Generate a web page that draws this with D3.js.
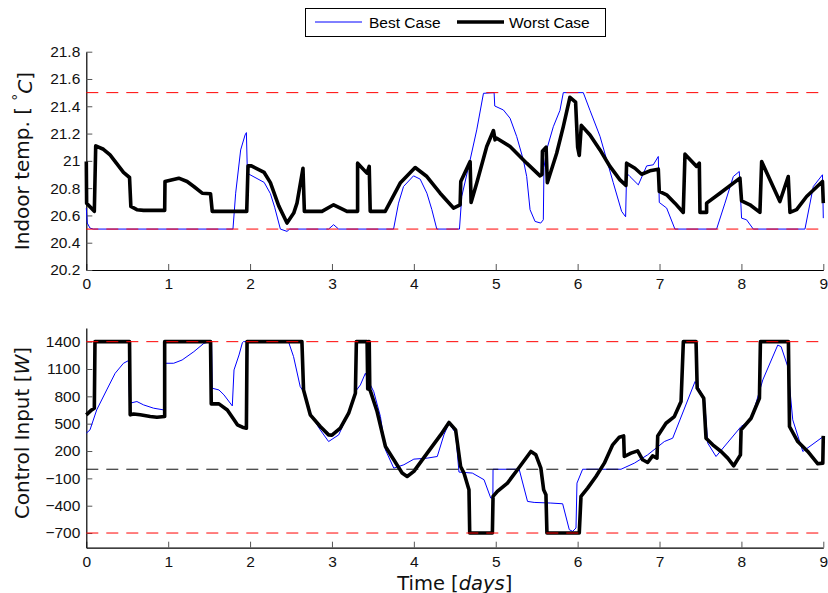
<!DOCTYPE html>
<html>
<head>
<meta charset="utf-8">
<script src="https://cdn.jsdelivr.net/npm/d3@7"></script>
<style>
  html, body { margin: 0; padding: 0; background: #fff; }
  svg { display: block; }
  .tick text { font-family: "Liberation Sans", Arial, sans-serif; font-size: 15.5px; fill: #111; }
</style>
</head>
<body>
<svg id="chart" width="828" height="593"></svg>
<script>
// ---------------- data ----------------
const dayTicks = [0, 1, 2, 3, 4, 5, 6, 7, 8, 9];
const tempTicks = [20.2, 20.4, 20.6, 20.8, 21, 21.2, 21.4, 21.6, 21.8];
const powerTicks = [-700, -400, -100, 200, 500, 800, 1100, 1400];
const tempLimits = [21.5, 20.5];
const powerLimits = [1400, -700];
const powerZero = [0];
const seriesNames = ["Best Case", "Worst Case"];

// Indoor temperature, best case [day, °C]
const tempBest = [
  [0,20.654],[0.012,20.544],[0.045,20.507],[0.086,20.5],[1.791,20.5],[1.824,20.763],[1.885,21.08],
  [1.939,21.19],[1.955,21.207],[1.967,20.91],[2.0,20.898],[2.172,20.842],[2.248,20.76],[2.30,20.66],
  [2.37,20.5],[2.451,20.483],[2.484,20.5],[2.959,20.5],[3.02,20.532],[3.081,20.5],[3.752,20.5],
  [3.813,20.69],[3.874,20.812],[3.996,20.89],[4.077,20.866],[4.159,20.763],[4.22,20.642],[4.28,20.5],
  [4.557,20.5],[4.585,20.739],[4.687,21.007],[4.768,21.227],[4.85,21.495],[4.98,21.5],[4.988,21.402],
  [5.093,21.373],[5.175,21.312],[5.256,21.178],[5.337,21.007],[5.378,20.885],[5.419,20.642],
  [5.48,20.556],[5.549,20.544],[5.581,20.568],[5.589,20.95],[5.621,21.08],[5.703,21.25],[5.784,21.37],
  [5.825,21.5],[6.069,21.5],[6.151,21.37],[6.273,21.18],[6.354,21.01],[6.435,20.84],[6.537,20.63],
  [6.586,20.59],[6.598,20.91],[6.639,20.885],[6.741,20.824],[6.843,20.963],[6.924,20.971],
  [6.985,21.032],[6.997,20.695],[7.087,20.654],[7.188,20.5],[7.697,20.5],[7.799,20.69],[7.901,20.885],
  [7.974,20.922],[8.002,20.58],[8.063,20.568],[8.145,20.5],[8.776,20.5],[8.878,20.812],[8.99,20.898],
  [9.0,20.58]
];

// Indoor temperature, worst case [day, °C]
const tempWorst = [
  [0,20.995],[0.004,20.69],[0.098,20.63],[0.115,21.11],[0.209,21.085],[0.29,21.044],[0.372,20.98],
  [0.454,20.915],[0.528,20.878],[0.544,20.666],[0.618,20.642],[0.70,20.637],[0.957,20.637],
  [0.961,20.849],[1.129,20.873],[1.231,20.849],[1.313,20.812],[1.415,20.763],[1.517,20.759],
  [1.538,20.63],[1.959,20.63],[1.975,20.963],[2.016,20.963],[2.172,20.915],[2.248,20.84],
  [2.35,20.67],[2.451,20.544],[2.533,20.617],[2.573,20.69],[2.646,20.946],[2.663,20.63],[2.878,20.63],
  [3.02,20.678],[3.102,20.654],[3.183,20.63],[3.313,20.63],[3.313,20.983],[3.427,20.91],[3.455,20.959],
  [3.467,20.63],[3.65,20.63],[3.833,20.837],[4.016,20.951],[4.159,20.885],[4.321,20.763],
  [4.484,20.654],[4.565,20.678],[4.573,20.849],[4.687,20.995],[4.699,20.695],[4.768,20.837],
  [4.89,21.105],[4.972,21.222],[4.992,21.154],[5.012,21.166],[5.175,21.105],[5.378,20.983],
  [5.541,20.89],[5.565,20.9],[5.57,21.07],[5.615,21.1],[5.63,20.84],[5.744,21.056],[5.825,21.251],
  [5.906,21.466],[5.975,21.43],[6.0,21.1],[6.02,21.04],[6.045,21.26],[6.151,21.19],[6.273,21.08],
  [6.395,20.959],[6.517,20.861],[6.59,20.82],[6.598,20.983],[6.70,20.946],[6.781,20.902],
  [6.883,20.927],[6.985,20.939],[6.997,20.776],[7.087,20.751],[7.188,20.69],[7.29,20.622],
  [7.311,21.049],[7.453,20.959],[7.486,20.983],[7.494,20.622],[7.575,20.622],[7.575,20.69],
  [7.738,20.763],[7.982,20.873],[8.002,20.707],[8.104,20.678],[8.226,20.622],[8.247,20.995],
  [8.47,20.702],[8.572,20.885],[8.593,20.622],[8.674,20.642],[8.796,20.739],[8.99,20.849],[9.0,20.69]
];

// Control input, best case [day, W]
const powerBest = [
  [0,396],[0.045,432],[0.127,651],[0.249,870],[0.352,1053],[0.454,1163],[0.515,1192],[0.528,724],
  [0.618,743],[0.70,706],[0.822,670],[0.945,651],[0.953,1163],[1.067,1163],[1.17,1199],[1.313,1290],
  [1.436,1382],[1.509,1400],[1.53,1400],[1.538,889],[1.62,870],[1.681,816],[1.783,695],[1.804,1090],
  [1.865,1254],[1.906,1389],[1.918,1400],[2.469,1400],[2.531,1236],[2.612,907],[2.653,852],
  [2.755,578],[2.857,432],[2.959,304],[3.082,377],[3.184,578],[3.286,852],[3.347,925],[3.408,1053],
  [3.449,962],[3.51,852],[3.592,578],[3.653,213],[3.755,12],[3.878,49],[4.0,111],[4.163,122],
  [4.286,140],[4.367,377],[4.429,505],[4.51,396],[4.551,-31],[4.714,-42],[4.857,-115],[4.939,-316],
  [4.965,-316],[4.967,0],[5.286,0],[5.388,-353],[5.469,-364],[5.673,-371],[5.817,-379],[5.898,-663],
  [5.939,-682],[5.98,-645],[5.992,-152],[6.061,0],[6.53,0],[6.693,67],[6.855,158],[7.059,304],
  [7.161,341],[7.434,962],[7.548,779],[7.589,286],[7.69,140],[7.996,469],[8.118,542],[8.261,980],
  [8.444,1363],[8.485,1345],[8.566,1126],[8.627,542],[8.75,195],[9.0,359]
];

// Control input, worst case [day, W]
const powerWorst = [
  [0,597],[0.065,651],[0.098,670],[0.106,1400],[0.528,1400],[0.536,597],[0.577,607],[0.658,597],
  [0.781,578],[0.863,571],[0.957,578],[0.957,1400],[1.517,1400],[1.526,717],[1.62,717],[1.722,651],
  [1.804,542],[1.845,487],[1.906,461],[1.955,450],[1.963,1400],[2.633,1400],[2.653,870],[2.735,597],
  [2.857,469],[2.959,377],[3.0,374],[3.102,450],[3.204,615],[3.286,834],[3.298,1400],[3.429,1400],
  [3.437,880],[3.447,1400],[3.455,1400],[3.462,870],[3.469,860],[3.551,633],[3.653,250],[3.755,104],
  [3.857,-42],[3.918,-79],[4.0,-24],
  [4.163,177],[4.327,377],[4.429,513],[4.51,432],[4.571,30],[4.612,-42],[4.673,-225],[4.682,-700],
  [4.959,-700],[4.967,-298],[5.02,-243],[5.143,-152],[5.265,-6],[5.429,195],[5.49,158],[5.551,12],
  [5.585,-225],[5.613,-280],[5.625,-700],[6.02,-700],[6.041,-298],[6.122,-207],[6.224,-79],
  [6.326,67],[6.428,268],[6.509,352],[6.562,366],[6.57,140],[6.652,177],[6.733,202],[6.794,104],
  [6.855,74],[6.916,147],[6.969,122],[6.978,366],[7.079,505],[7.181,578],[7.263,743],[7.291,1400],
  [7.446,1400],[7.46,890],[7.54,779],[7.568,341],[7.65,268],[7.752,195],[7.833,122],[7.906,38],
  [7.988,158],[7.996,432],[8.118,560],[8.22,779],[8.232,1400],[8.574,1400],[8.587,469],[8.688,304],
  [8.81,195],[8.933,60],[8.994,67],[9.0,366]
];

// ---------------- drawing ----------------
const svg = d3.select("#chart");
const X0 = 86.3, X1 = 823.3;
const x = d3.scaleLinear().domain([0, 9]).range([X0, X1]);
const yT = d3.scaleLinear().domain([20.2, 21.8]).range([270, 51.7]);
const yP = d3.scaleLinear().domain([-861, 1550]).range([547.7, 328]);

const blue = "#0000ff", black = "#000000", red = "#ff0000";

function panel(y, ticks, best, worst, limits, zero, yLabelParts, yLabelY) {
  const g = svg.append("g");
  const ax = g.append("g").attr("transform", `translate(0,${y.range()[0]})`)
    .call(d3.axisBottom(x).tickValues(dayTicks).tickFormat(d3.format("d"))
      .tickSizeInner(-6).tickSizeOuter(0).tickPadding(8));
  const ay = g.append("g").attr("transform", `translate(${X0},0)`)
    .call(d3.axisLeft(y).tickValues(ticks).tickFormat(d => (d < 0 ? "\u2212" + Math.abs(d) : String(d)))
      .tickSizeInner(-6).tickSizeOuter(0).tickPadding(6));
  [ax, ay].forEach(a => {
    a.select(".domain").attr("stroke", "#000").attr("stroke-width", 1.2);
    a.selectAll(".tick line").attr("stroke", "#555").attr("stroke-width", 1);
  });

  const line = d3.line().x(d => x(d[0])).y(d => y(d[1]));
  g.append("path").datum(best).attr("d", line)
    .attr("fill", "none").attr("stroke", blue).attr("stroke-width", 1)
    .attr("stroke-linejoin", "round");
  g.append("path").datum(worst).attr("d", line)
    .attr("fill", "none").attr("stroke", black).attr("stroke-width", 3.6)
    .attr("stroke-linejoin", "round").attr("stroke-linecap", "butt");

  limits.forEach(v => {
    g.append("line").attr("x1", x(0)).attr("x2", x(9)).attr("y1", y(v)).attr("y2", y(v))
      .attr("stroke", red).attr("stroke-width", 1).attr("stroke-dasharray", "12,8");
  });
  zero.forEach(v => {
    g.append("line").attr("x1", x(0)).attr("x2", x(9)).attr("y1", y(v)).attr("y2", y(v))
      .attr("stroke", "#111").attr("stroke-width", 1).attr("stroke-dasharray", "12,8");
  });

  const t = svg.append("text")
    .attr("transform", `translate(29,${yLabelY}) rotate(-90)`)
    .attr("text-anchor", "middle")
    .style("font-family", "'DejaVu Sans', sans-serif").style("font-size", "20px").attr("fill", "#111");
  yLabelParts.forEach(p => {
    const ts = t.append("tspan").text(p.t);
    if (p.i) ts.style("font-style", "italic");
    if (p.sup) ts.attr("dy", "-0.45em").style("font-size", "14px");
    if (p.down) ts.attr("dy", "0.45em");
  });
}

panel(yT, tempTicks, tempBest, tempWorst, tempLimits, [],
  [{t: "Indoor temp. [ "}, {t: "\u00B0", sup: true}, {t: "C", i: true, down: true}, {t: "]"}], 161);
panel(yP, powerTicks, powerBest, powerWorst, powerLimits, powerZero,
  [{t: "Control Input ["}, {t: "W", i: true}, {t: "]"}], 433);

const xl = svg.append("text").attr("x", (X0 + X1) / 2).attr("y", 589.5)
  .attr("text-anchor", "middle")
  .style("font-family", "'DejaVu Sans', sans-serif").style("font-size", "19.5px").attr("fill", "#111");
xl.append("tspan").text("Time [");
xl.append("tspan").text("days").style("font-style", "italic");
xl.append("tspan").text("]");

const lg = svg.append("g");
lg.append("rect").attr("x", 305.5).attr("y", 8.5).attr("width", 300).attr("height", 28)
  .attr("fill", "#fff").attr("stroke", "#000").attr("stroke-width", 1);
const legendItems = [
  {name: seriesNames[0], color: blue, w: 1, x1: 315, x2: 362, tx: 369},
  {name: seriesNames[1], color: black, w: 3.6, x1: 457, x2: 504, tx: 509}
];
legendItems.forEach(it => {
  lg.append("line").attr("x1", it.x1).attr("x2", it.x2).attr("y1", 22).attr("y2", 22)
    .attr("stroke", it.color).attr("stroke-width", it.w);
  lg.append("text").attr("x", it.tx).attr("y", 27.5).text(it.name)
    .style("font-family", "'Liberation Sans', Arial, sans-serif").style("font-size", "15.5px").attr("fill", "#000");
});
</script>
</body>
</html>
